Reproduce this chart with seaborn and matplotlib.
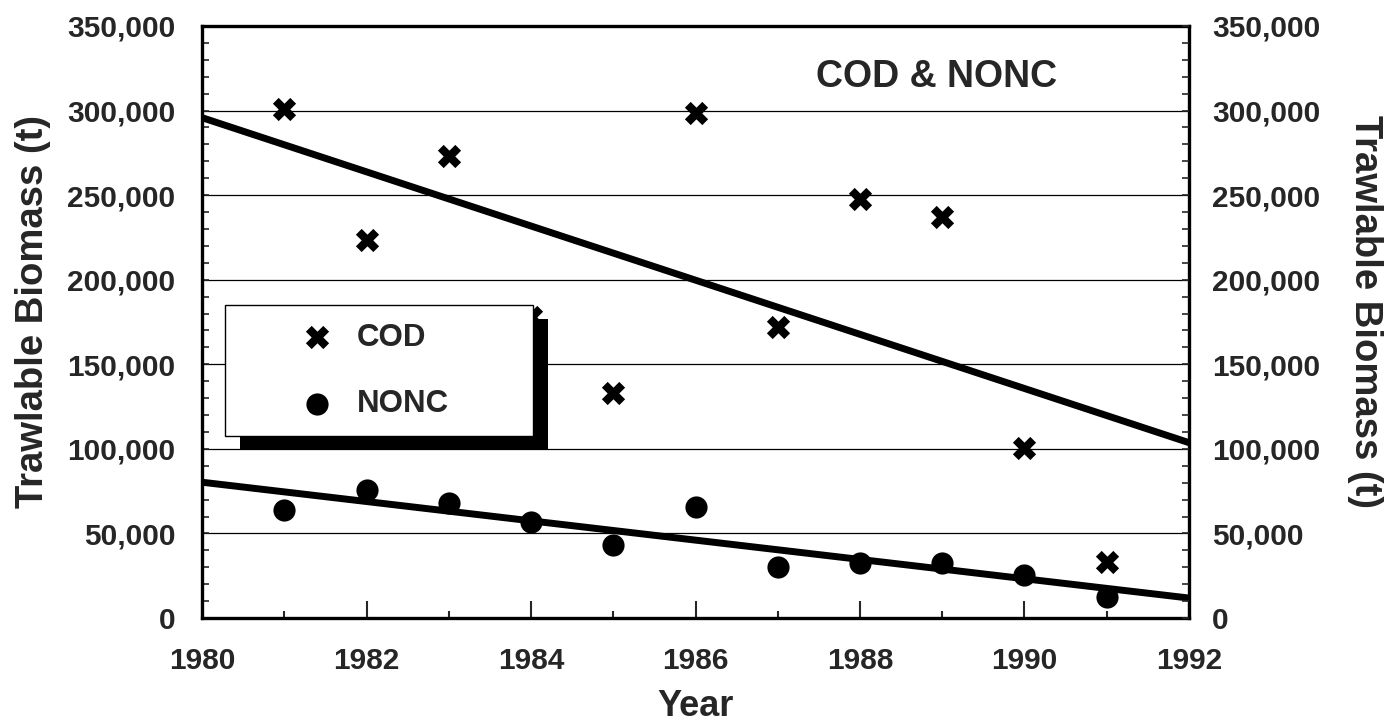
import matplotlib

matplotlib.use("Agg")

import matplotlib.pyplot as plt
import seaborn as sns
from matplotlib.patches import Rectangle
from matplotlib.ticker import MultipleLocator, StrMethodFormatter

# survey years and trawlable biomass (t)
years = [1981, 1982, 1983, 1984, 1985, 1986, 1987, 1988, 1989, 1990, 1991]
cod_biomass = [301000, 223500, 273000, 178000, 133000, 298500, 172000, 247500, 237000, 100300, 33300]
nonc_biomass = [63900, 75700, 68200, 56900, 43200, 65600, 30200, 32500, 32300, 25400, 12500]

x_range = [1980, 1992]
y_range = [0, 350000]
x_ticks = [1980, 1982, 1984, 1986, 1988, 1990, 1992]
y_ticks = [0, 50000, 100000, 150000, 200000, 250000, 300000, 350000]

sns.set_theme(style="ticks")
plt.rcParams["font.family"] = ["Liberation Sans", "DejaVu Sans"]
plt.rcParams["font.weight"] = "bold"
plt.rcParams["axes.labelweight"] = "bold"

fig = plt.figure(figsize=(13.89, 7.23), dpi=100)
ax = fig.add_axes([0.14543, 0.14523, 0.71058, 0.81881])
ax.set_xlim(*x_range)
ax.set_ylim(*y_range)

# fitted trends across the full axis range
for values in (cod_biomass, nonc_biomass):
    sns.regplot(x=years, y=values, ax=ax, scatter=False, ci=None, truncate=False,
                color="black", line_kws={"linewidth": 5, "zorder": 2})

sns.scatterplot(x=years, y=cod_biomass, ax=ax, marker="X", s=280, color="black",
                linewidth=0, label="COD", zorder=3)
sns.scatterplot(x=years, y=nonc_biomass, ax=ax, marker="o", s=255, color="black",
                linewidth=0, label="NONC", zorder=3)

ax.set_xlim(*x_range)
ax.set_ylim(*y_range)
ax.set_xticks(x_ticks)
ax.xaxis.set_minor_locator(MultipleLocator(1))
ax.set_yticks(y_ticks)
ax.yaxis.set_minor_locator(MultipleLocator(10000))
ax.yaxis.set_major_formatter(StrMethodFormatter("{x:,.0f}"))

ax.set_axisbelow(True)
ax.grid(True, axis="y", which="major", color="black", linewidth=0.9)
ax.grid(False, axis="x")

ax.tick_params(axis="x", which="major", direction="in", length=12, width=1.5,
               pad=21, labelsize=21.5, bottom=True, top=False)
ax.tick_params(axis="x", which="minor", direction="in", length=5, width=1.5,
               bottom=True, top=False)
ax.tick_params(axis="y", which="both", direction="in", length=5, width=1.2,
               pad=19, labelsize=21.5, left=True, right=False)

for spine in ax.spines.values():
    spine.set_visible(True)
    spine.set_linewidth(2.4)
    spine.set_color("black")

ax.set_xlabel("Year", fontsize=26, labelpad=10)
ax.set_ylabel("Trawlable Biomass (t)", fontsize=27.5)
ax.yaxis.set_label_coords(-0.153, 0.517)

twin = ax.twinx()
twin.set_ylim(*y_range)
twin.set_yticks(y_ticks)
twin.yaxis.set_minor_locator(MultipleLocator(10000))
twin.yaxis.set_major_formatter(StrMethodFormatter("{x:,.0f}"))
twin.tick_params(axis="y", which="both", direction="in", length=5, width=1.2,
                 pad=16.5, labelsize=21.5, right=True, left=False)
for spine in twin.spines.values():
    spine.set_visible(False)
twin.set_ylabel("Trawlable Biomass (t)", fontsize=27.5, rotation=270, va="bottom")
twin.yaxis.set_label_coords(1.16, 0.517)

ax.text(1988.93, 313900, "COD & NONC", fontsize=27, fontweight="bold",
        ha="center", va="baseline")

leg = ax.legend(loc="upper left", bbox_to_anchor=(0.0233, 0.30, 0.312, 0.2287),
                mode="expand", borderaxespad=0, fontsize=22.5, frameon=True,
                fancybox=False, framealpha=1, edgecolor="black",
                borderpad=0.56, labelspacing=1.16, handlelength=4.77,
                handletextpad=-1.11)
leg.get_frame().set_linewidth(1.0)
leg.set_zorder(5)

# solid drop shadow offset down-right behind the legend box
fig.canvas.draw()
bb = leg.get_frame().get_window_extent(fig.canvas.get_renderer())
inv = ax.transAxes.inverted()
x0, y0 = inv.transform((bb.x0 + 15, bb.y0 - 14))
x1, y1 = inv.transform((bb.x1 + 15, bb.y1 - 14))
ax.add_patch(Rectangle((x0, y0), x1 - x0, y1 - y0, transform=ax.transAxes,
                       facecolor="black", edgecolor="none", zorder=4.9, clip_on=False))

fig.savefig("out.png", dpi=100)
plt.close(fig)
